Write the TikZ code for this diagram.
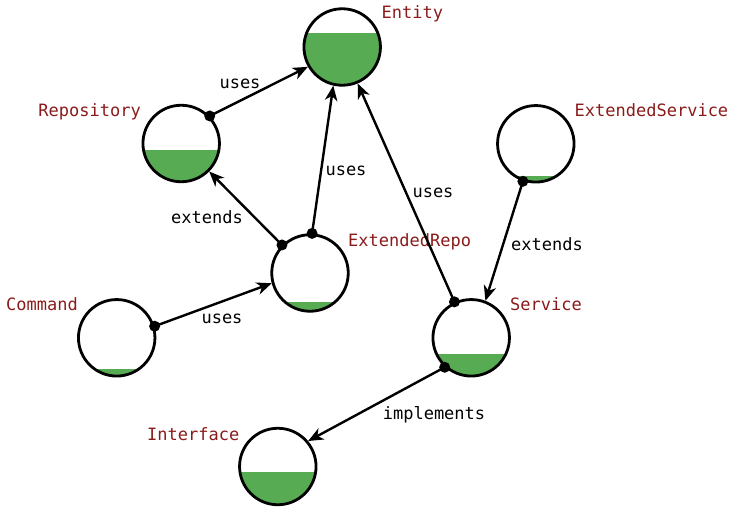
\documentclass[tikz,border=0pt]{standalone}
\usepackage{fontspec}
\setmonofont{DejaVu Sans Mono}
\usetikzlibrary{arrows.meta}

\definecolor{fillgreen}{RGB}{87,171,82}
\definecolor{namered}{RGB}{139,27,27}

\tikzset{
  % class circle; the argument is the height of the green level above the centre
  cls/.style={circle, draw=black, line width=2.8pt, minimum size=76.5pt, inner sep=0pt,
    path picture={\fill[fillgreen] ([yshift=#1pt]path picture bounding box.center)
      ++(-45pt,0pt) rectangle ++(90pt,-60pt);}},
  clsname/.style={text=namered, font=\ttfamily\fontsize{17}{20}\selectfont, inner sep=0pt},
  elbl/.style={text=black, font=\ttfamily\fontsize{17}{20}\selectfont, inner sep=0pt, anchor=base},
  conn/.style={line width=2.4pt, -{Stealth[length=15pt, width=12.5pt, inset=4.5pt]}},
  srcdot/.style={fill=black},
}

\begin{document}
\begin{tikzpicture}[x=1pt, y=-1pt]
  \useasboundingbox (0,0) rectangle (730,506);

  % classes
  \node[cls=13.7]  (ent)    at (342.2,47)    {};
  \node[cls=-6.5]  (rep)    at (181.2,143.5) {};
  \node[cls=-28.7] (extrep) at (310,273)     {};
  \node[cls=-31.5] (cmd)    at (116.7,337.8) {};
  \node[cls=-16.2] (svc)    at (471.2,337.8) {};
  \node[cls=-32.2] (extsvc) at (535.8,143.8) {};
  \node[cls=-5.7]  (iface)  at (277.8,466.5) {};

  % class names
  \node[clsname, anchor=base west] (ent-n)    at (381.5,18.5)  {Entity};
  \node[clsname, anchor=base east] (rep-n)    at (141,116.7)   {Repository};
  \node[clsname, anchor=base west] (extrep-n) at (348,246.5)   {ExtendedRepo};
  \node[clsname, anchor=base east] (cmd-n)    at (78,310.7)    {Command};
  \node[clsname, anchor=base west] (svc-n)    at (510,310.7)   {Service};
  \node[clsname, anchor=base west] (extsvc-n) at (574.5,116.7) {ExtendedService};
  \node[clsname, anchor=base east] (iface-n)  at (239.5,440)   {Interface};

  % relations
  \draw[conn] (rep.44)     -- (ent.210);
  \draw[conn] (extrep.135) -- (rep.315);
  \draw[conn] (extrep.87)  -- (ent.257);
  \draw[conn] (svc.115)    -- (ent.293);
  \draw[conn] (extsvc.251) -- (svc.69);
  \draw[conn] (cmd.17)     -- (extrep.195);
  \draw[conn] (svc.228)    -- (iface.40);

  % source dots
  \foreach \a in {rep.44, extrep.135, extrep.87, svc.115, extsvc.251, cmd.17, svc.228}
    \fill[srcdot] (\a) circle (5.5pt);

  % relation labels
  \node[elbl] (l1) at (240,88)    {uses};
  \node[elbl] (l2) at (207,223)   {extends};
  \node[elbl] (l3) at (346,175)   {uses};
  \node[elbl] (l4) at (433,197.5) {uses};
  \node[elbl] (l5) at (547,250)   {extends};
  \node[elbl] (l6) at (222,323)   {uses};
  \node[elbl] (l7) at (434,419)   {implements};
\end{tikzpicture}
\end{document}
